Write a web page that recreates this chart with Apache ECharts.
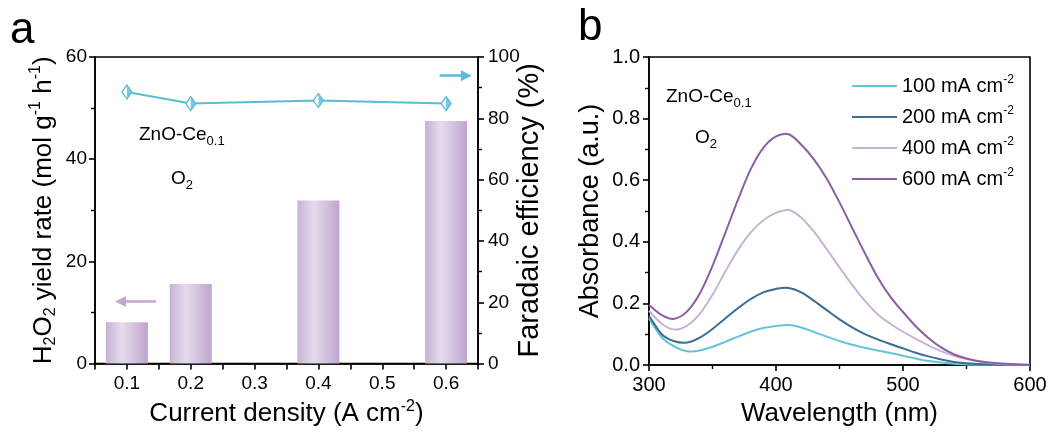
<!DOCTYPE html>
<html><head><meta charset="utf-8">
<script src="https://cdn.jsdelivr.net/npm/echarts@6/dist/echarts.min.js"></script>
<style>html,body{margin:0;padding:0;background:#fff}#c{width:1051px;height:432px}</style>
</head><body><div id="c"></div>
<script>
// ---------- data ----------
const currentDensity = [0.1, 0.2, 0.4, 0.6];
const yieldRate = [8.1, 15.6, 31.9, 47.5];
const faradaicEff = [88.6, 84.8, 85.8, 84.8];

const wavelengths = [300,310,320,330,340,350,360,370,380,390,400,410,420,430,440,450,460,470,480,490,500,510,520,530,540,550,560,570,580,590,600];
const abs100 = [0.152,0.090,0.060,0.045,0.047,0.059,0.075,0.092,0.108,0.120,0.127,0.130,0.122,0.107,0.092,0.078,0.066,0.056,0.047,0.039,0.030,0.021,0.013,0.008,0.004,0.002,0.001,0.001,0.000,0.000,0.000];
const abs200 = [0.160,0.100,0.077,0.073,0.089,0.117,0.151,0.184,0.214,0.236,0.247,0.250,0.236,0.208,0.178,0.148,0.122,0.100,0.083,0.068,0.054,0.040,0.028,0.018,0.010,0.006,0.003,0.002,0.001,0.001,0.000];
const abs400 = [0.176,0.134,0.115,0.128,0.166,0.228,0.303,0.373,0.430,0.470,0.494,0.503,0.478,0.432,0.376,0.317,0.260,0.208,0.165,0.134,0.108,0.085,0.064,0.045,0.030,0.019,0.011,0.006,0.003,0.002,0.001];
const abs600 = [0.195,0.162,0.150,0.174,0.232,0.322,0.428,0.536,0.635,0.705,0.742,0.749,0.715,0.667,0.605,0.528,0.445,0.363,0.285,0.222,0.172,0.126,0.088,0.057,0.035,0.021,0.012,0.007,0.004,0.002,0.001];
const seriesNames = ['100 mA cm-2','200 mA cm-2','400 mA cm-2','600 mA cm-2'];

// ---------- style ----------
const FONT = 'Liberation Sans, Arial, sans-serif';
const CYAN = '#5bbcd5';
const LINE_COLORS = ['#66c4d8','#3b6d94','#c9b3d7','#8a5ea4'];
const BAR_PURPLE = '#c3a8d0';

const pairs = (xs, ys) => xs.map((x, i) => [x, ys[i]]);

function axisLine(){ return {show:true,onZero:false,lineStyle:{color:'#000',width:1.6}}; }
function axisTick(){ return {show:true,inside:false,length:6,lineStyle:{color:'#000',width:1.6}}; }
function minorTick(){ return {show:true,splitNumber:2,length:4,lineStyle:{color:'#000',width:1.4}}; }
function label(fs, margin, fmt){ const o = {color:'#000',fontFamily:FONT,fontSize:fs,margin:margin}; if(fmt) o.formatter = fmt; return o; }
function nameStyle(fs){
  return {color:'#000',fontFamily:FONT,fontSize:fs,
    rich:{
      n:{fontFamily:FONT,fontSize:fs,color:'#000',lineHeight:fs+5},
      b:{fontFamily:FONT,fontSize:Math.round(fs*0.6),color:'#000',verticalAlign:'bottom',lineHeight:Math.round(fs*0.6)},
      t:{fontFamily:FONT,fontSize:Math.round(fs*0.6),color:'#000',verticalAlign:'top',lineHeight:Math.round(fs*0.6)}
    }};
}
function annoRich(fs){
  return {
    m:{fontFamily:FONT,fontSize:fs,fill:'#000',color:'#000',lineHeight:26},
    b:{fontFamily:FONT,fontSize:13,fill:'#000',color:'#000',verticalAlign:'bottom',lineHeight:13}
  };
}

// smooth curve through the points, positioned with the chart's own scale (api.coord)
function spectrumSeries(name, ys, color){
  return {
    type:'custom', name:name, coordinateSystem:'cartesian2d', xAxisIndex:1, yAxisIndex:2,
    data:pairs(wavelengths, ys), encode:{x:0, y:1},
    itemStyle:{color:color}, silent:true,
    renderItem:function(params, api){
      if (params.dataIndex !== 0) return null;
      const pts = wavelengths.map((w, i) => api.coord([w, ys[i]]));
      let d = 'M' + pts[0][0] + ' ' + pts[0][1];
      for (let i = 0; i < pts.length - 1; i++){
        const p0 = pts[Math.max(i - 1, 0)], p1 = pts[i], p2 = pts[i + 1], p3 = pts[Math.min(i + 2, pts.length - 1)];
        const c1x = p1[0] + (p2[0] - p0[0]) / 6, c1y = p1[1] + (p2[1] - p0[1]) / 6;
        const c2x = p2[0] - (p3[0] - p1[0]) / 6, c2y = p2[1] - (p3[1] - p1[1]) / 6;
        d += ' C' + c1x + ' ' + c1y + ' ' + c2x + ' ' + c2y + ' ' + p2[0] + ' ' + p2[1];
      }
      return {type:'path', shape:{pathData:d}, style:{fill:null, stroke:color, lineWidth:2}};
    }
  };
}

const chart = echarts.init(document.getElementById('c'), null, {renderer:'canvas'});

const option = {
  animation:false,
  backgroundColor:'#fff',
  grid:[
    {left:95, right:573, top:57, bottom:67, show:true, borderColor:'#000', borderWidth:1.6, backgroundColor:'transparent'},
    {left:649, right:21, top:57, bottom:67, show:true, borderColor:'#000', borderWidth:1.6, backgroundColor:'transparent'}
  ],
  xAxis:[
    {gridIndex:0, type:'value', min:0.05, max:0.65, interval:0.05,
     axisLine:axisLine(), axisTick:axisTick(), splitLine:{show:false},
     axisLabel:label(19, 11, v => (Math.round(v*100) % 10 === 0) ? (Math.round(v*10)/10).toFixed(1) : ''),
     name:'{n|Current density (A cm}{t|-2}{n|)}', nameLocation:'middle', nameGap:33, nameTextStyle:nameStyle(26)},
    {gridIndex:1, type:'value', min:300, max:600, interval:100,
     axisLine:axisLine(), axisTick:axisTick(), minorTick:minorTick(), splitLine:{show:false}, minorSplitLine:{show:false},
     axisLabel:label(20, 10),
     name:'{n|Wavelength (nm)}', nameLocation:'middle', nameGap:33, nameTextStyle:nameStyle(26)}
  ],
  yAxis:[
    {gridIndex:0, type:'value', position:'left', min:0, max:60, interval:20,
     axisLine:axisLine(), axisTick:axisTick(), minorTick:minorTick(), splitLine:{show:false}, minorSplitLine:{show:false},
     axisLabel:label(19, 8),
     name:'{n|H}{b|2}{n|O}{b|2}{n| yield rate (mol g}{t|-1}{n| h}{t|-1}{n|)}', nameLocation:'middle', nameRotate:90, nameGap:36, nameMoveOverlap:false, nameTextStyle:nameStyle(26)},
    {gridIndex:0, type:'value', position:'right', min:0, max:100, interval:20,
     axisLine:axisLine(), axisTick:axisTick(), minorTick:minorTick(), splitLine:{show:false}, minorSplitLine:{show:false},
     axisLabel:label(19, 10),
     name:'{n|Faradaic efficiency (%)}', nameLocation:'middle', nameRotate:90, nameGap:35, nameMoveOverlap:false, nameTextStyle:nameStyle(29)},
    {gridIndex:1, type:'value', min:0, max:1, interval:0.2,
     axisLine:axisLine(), axisTick:axisTick(), minorTick:minorTick(), splitLine:{show:false}, minorSplitLine:{show:false},
     axisLabel:label(20, 9, v => v.toFixed(1)),
     name:'{n|Absorbance (a.u.)}', nameLocation:'middle', nameRotate:90, nameGap:42, nameMoveOverlap:false, nameTextStyle:nameStyle(27)}
  ],
  legend:{
    show:true, orient:'vertical', left:852, top:74, padding:0, itemWidth:45, itemHeight:2, itemGap:9, icon:'rect',
    data:seriesNames, selectedMode:false,
    formatter: n => '{a|' + n.slice(0, -2) + '}{s|-2}',
    textStyle:{color:'#000',fontFamily:FONT,fontSize:20,
      rich:{a:{fontFamily:FONT,fontSize:20,color:'#000',lineHeight:24},
            s:{fontFamily:FONT,fontSize:12,color:'#000',verticalAlign:'top',lineHeight:12}}}
  },
  series:[
    {type:'bar', name:'yield', xAxisIndex:0, yAxisIndex:0, barWidth:42,
     data:pairs(currentDensity, yieldRate),
     itemStyle:{color:new echarts.graphic.LinearGradient(0,0,1,0,[
       {offset:0,color:'#c7b2d4'},{offset:0.38,color:'#e5dcec'},{offset:1,color:'#c0a4ce'}])},
     markLine:{silent:true, animation:false, symbol:['none','triangle'], symbolSize:11,
       label:{show:false}, lineStyle:{color:BAR_PURPLE,width:2.5,type:'solid'},
       data:[[{coord:[0.1456,12.15]},{coord:[0.090,12.15]}]]}},
    {type:'line', name:'FE', xAxisIndex:0, yAxisIndex:1, z:3,
     data:pairs(currentDensity, faradaicEff),
     symbol:'diamond', symbolSize:[10,14],
     itemStyle:{color:'#fff', borderColor:CYAN, borderWidth:1.3},
     lineStyle:{color:CYAN,width:2},
     markLine:{silent:true, animation:false, symbol:['none','triangle'], symbolSize:11,
       label:{show:false}, lineStyle:{color:CYAN,width:2.5,type:'solid'},
       data:[[{coord:[0.5898,93.9]},{coord:[0.6317,93.9]}]]}},
    {type:'scatter', name:'FEhalf', xAxisIndex:0, yAxisIndex:1, z:4,
     data:pairs(currentDensity, faradaicEff),
     symbol:'path://M0 0L5 7L0 14Z', symbolSize:[5,14], symbolOffset:[2.5,0],
     itemStyle:{color:CYAN}},
    spectrumSeries(seriesNames[0], abs100, LINE_COLORS[0]),
    spectrumSeries(seriesNames[1], abs200, LINE_COLORS[1]),
    spectrumSeries(seriesNames[2], abs400, LINE_COLORS[2]),
    spectrumSeries(seriesNames[3], abs600, LINE_COLORS[3])
  ],
  graphic:[
    {type:'text', x:10, y:9, style:{text:'a', fontFamily:FONT, fontSize:44, fill:'#000', verticalAlign:'top', align:'left'}},
    {type:'text', x:578, y:6, style:{text:'b', fontFamily:FONT, fontSize:44, fill:'#000', verticalAlign:'top', align:'left'}},
    {type:'text', x:139, y:122, style:{text:'{m|ZnO-Ce}{b|0.1}', rich:annoRich(19), fill:'#000', verticalAlign:'top', align:'left'}},
    {type:'text', x:171, y:166, style:{text:'{m|O}{b|2}', rich:annoRich(19), fill:'#000', verticalAlign:'top', align:'left'}},
    {type:'text', x:666, y:84, style:{text:'{m|ZnO-Ce}{b|0.1}', rich:annoRich(19), fill:'#000', verticalAlign:'top', align:'left'}},
    {type:'text', x:695, y:125, style:{text:'{m|O}{b|2}', rich:annoRich(19), fill:'#000', verticalAlign:'top', align:'left'}}
  ]
};
chart.setOption(option);
</script></body></html>
